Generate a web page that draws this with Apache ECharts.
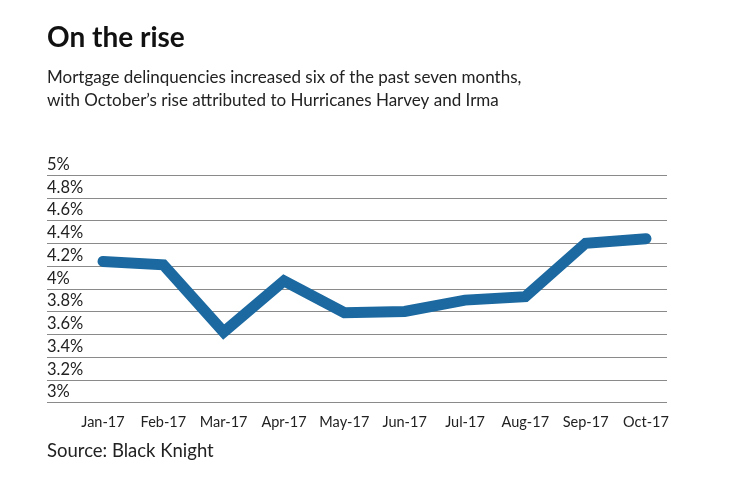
<!DOCTYPE html>
<html>
<head>
<meta charset="utf-8">
<script src="https://cdn.jsdelivr.net/npm/echarts@6/dist/echarts.min.js"></script>
<style>
html,body{margin:0;padding:0;background:#fff;}
#c{width:740px;height:482px;}
</style>
</head>
<body>
<div id="c"></div>
<script>
var months = ['Jan-17','Feb-17','Mar-17','Apr-17','May-17','Jun-17','Jul-17','Aug-17','Sep-17','Oct-17'];
var delinquencyRate = [4.24, 4.21, 3.62, 4.07, 3.79, 3.80, 3.90, 3.93, 4.40, 4.44];
var yMin = 3, yMax = 5, yStep = 0.2;

var FONT = 'Lato';
var chart = echarts.init(document.getElementById('c'), null, {renderer: 'canvas'});
chart.setOption({
  backgroundColor: '#ffffff',
  animation: false,
  title: [
    {text: 'On the rise', left: 47, top: 24, padding: 0,
     textStyle: {fontFamily: FONT, fontWeight: 'bold', fontSize: 28, color: '#111'}},
    {text: 'Mortgage delinquencies increased six of the past seven months,\nwith October\u2019s rise attributed to Hurricanes Harvey and Irma',
     left: 47, top: 66, padding: 0,
     textStyle: {fontFamily: FONT, fontWeight: 'normal', fontSize: 17, lineHeight: 23, color: '#222'}},
    {text: 'Source: Black Knight', left: 47, top: 442, padding: 0,
     textStyle: {fontFamily: FONT, fontWeight: 'normal', fontSize: 18.5, color: '#222'}}
  ],
  grid: [
    {left: 47, right: 73, top: 175, bottom: 79.5},
    {left: 103, right: 94, top: 175, bottom: 79.5}
  ],
  xAxis: [
    {type: 'category', gridIndex: 0, data: months, show: false},
    {type: 'category', gridIndex: 1, data: months, boundaryGap: false,
     axisLine: {show: false}, axisTick: {show: false}, splitLine: {show: false},
     axisLabel: {fontFamily: FONT, fontSize: 14.5, color: '#222', margin: 12, interval: 0}}
  ],
  yAxis: [
    {type: 'value', gridIndex: 0, min: yMin, max: yMax, interval: yStep,
     axisLine: {show: false}, axisTick: {show: false},
     splitLine: {show: true, lineStyle: {color: '#8a8a8a', width: 1.2}},
     axisLabel: {inside: true, margin: 0, verticalAlign: 'bottom', align: 'left',
       padding: [0, 0, 2, 0],
       fontFamily: FONT, fontSize: 16.5, color: '#222',
       formatter: function (v) { return (+v.toFixed(1)) + '%'; }}},
    {type: 'value', gridIndex: 1, min: yMin, max: yMax, interval: yStep, show: false,
     splitLine: {show: false}}
  ],
  series: [
    {type: 'line', xAxisIndex: 1, yAxisIndex: 1, data: delinquencyRate,
     symbol: 'none', silent: true,
     lineStyle: {color: '#1b69a0', width: 11, cap: 'round', join: 'miter'}}
  ]
});
</script>
</body>
</html>
